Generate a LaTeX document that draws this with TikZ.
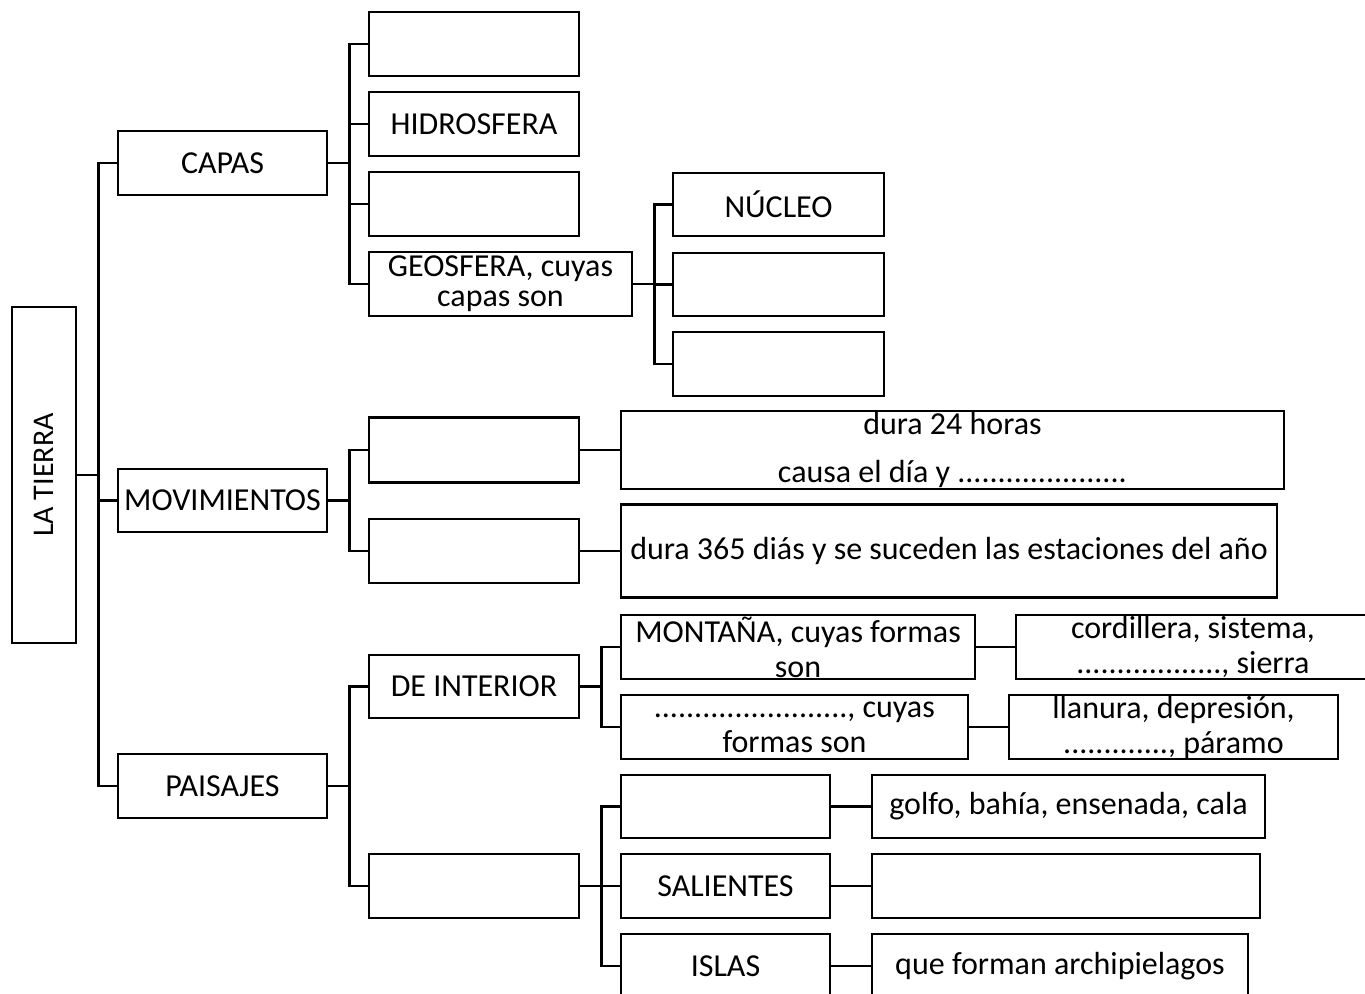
\documentclass[tikz,border=0pt]{standalone}
\usepackage{fontspec}
\setmainfont{Carlito}
\begin{document}
\begin{tikzpicture}[x=0.5pt,y=-0.5pt,line width=1.3pt,
    caja/.style={draw,inner sep=0pt,align=center,minimum width=105pt,minimum height=32pt,
        font=\fontsize{16}{19}\selectfont},
    dos/.style={font=\fontsize{16}{17.5}\selectfont}]
    \useasboundingbox (0,0) rectangle (1365,994);
    \clip (0,0) rectangle (1365,994);
    % raiz y primer nivel
    \node[caja,minimum width=32pt,minimum height=168pt] (tierra) at (44,475)
        {\rotatebox{90}{\fontsize{15}{18}\selectfont LA TIERRA}};
    \node[caja,minimum width=104.5pt] (capas) at (222.5,163) {CAPAS};
    \node[caja,minimum width=104.5pt,minimum height=31.5pt] (movim) at (222.5,500.5) {MOVIMIENTOS};
    \node[caja,minimum width=104.5pt] (paisajes) at (222.5,786) {PAISAJES};
    % capas
    \node[caja] (atm) at (474,44) {};
    \node[caja] (hidro) at (474,124) {HIDROSFERA};
    \node[caja] (bio) at (474,204) {};
    \node[caja,minimum width=131.5pt,font=\fontsize{16}{15}\selectfont] (geo) at (500.5,284) {GEOSFERA, cuyas\\capas son};
    \node[caja,minimum width=105.5pt,minimum height=31.5pt] (nucleo) at (778.5,204.5) {NÚCLEO};
    \node[caja,minimum width=105.5pt,minimum height=31.5pt] (manto) at (778.5,284.5) {};
    \node[caja,minimum width=105.5pt] (corteza) at (778.5,364) {};
    % movimientos
    \node[caja,minimum height=32.5pt] (rot) at (474,450) {};
    \node[caja,minimum width=331.5pt,minimum height=39pt] (rotdesc) at (952.5,450)
        {dura 24 horas\\[5pt]causa el día y .....................};
    \node[caja] (trasl) at (474,551) {};
    \node[caja,minimum width=328pt,minimum height=46.5pt] (trasldesc) at (949,551)
        {dura 365 diás y se suceden las estaciones del año};
    % paisajes
    \node[caja,minimum height=31.5pt] (interior) at (474,686.5) {DE INTERIOR};
    \node[caja] (costa) at (474,886) {};
    \node[caja,dos,minimum width=177pt] (montana) at (798,647) {MONTAÑA, cuyas formas\\son};
    \node[caja,dos,minimum width=177pt] (montformas) at (1193,647) {cordillera, sistema,\\.................., sierra};
    \node[caja,dos,minimum width=173.5pt] (llano) at (794.5,727) {........................, cuyas\\formas son};
    \node[caja,dos,minimum width=164.5pt] (llanoformas) at (1173.5,727) {llanura, depresión,\\............., páramo};
    \node[caja,minimum width=104.5pt,minimum height=31.5pt] (entrantes) at (725.5,806.5) {};
    \node[caja,minimum width=104.5pt] (salientes) at (725.5,886) {SALIENTES};
    \node[caja,minimum width=104.5pt] (islas) at (725.5,966) {ISLAS};
    \node[caja,minimum width=196.5pt,minimum height=31.5pt] (entdesc) at (1068.5,806.5) {golfo, bahía, ensenada, cala};
    \node[caja,minimum width=194pt] (saldesc) at (1066,886) {};
    \node[caja,minimum width=188pt] (isldesc) at (1060,966) {que forman archipielagos};
    % conectores
    \foreach \n in {capas,movim,paisajes}
        \draw (tierra.east) -- ++(21,0) |- (\n.west);
    \foreach \n in {atm,hidro,bio,geo}
        \draw (capas.east) -- ++(21,0) |- (\n.west);
    \foreach \n in {nucleo,manto,corteza}
        \draw (geo.east) -- ++(21,0) |- (\n.west);
    \foreach \n in {rot,trasl}
        \draw (movim.east) -- ++(21,0) |- (\n.west);
    \foreach \n in {interior,costa}
        \draw (paisajes.east) -- ++(21,0) |- (\n.west);
    \foreach \n in {montana,llano}
        \draw (interior.east) -- ++(21,0) |- (\n.west);
    \foreach \n in {entrantes,salientes,islas}
        \draw (costa.east) -- ++(21,0) |- (\n.west);
    \draw (rot) -- (rotdesc);
    \draw (trasl) -- (trasldesc);
    \draw (montana) -- (montformas);
    \draw (llano) -- (llanoformas);
    \draw (entrantes) -- (entdesc);
    \draw (salientes) -- (saldesc);
    \draw (islas) -- (isldesc);
\end{tikzpicture}
\end{document}
